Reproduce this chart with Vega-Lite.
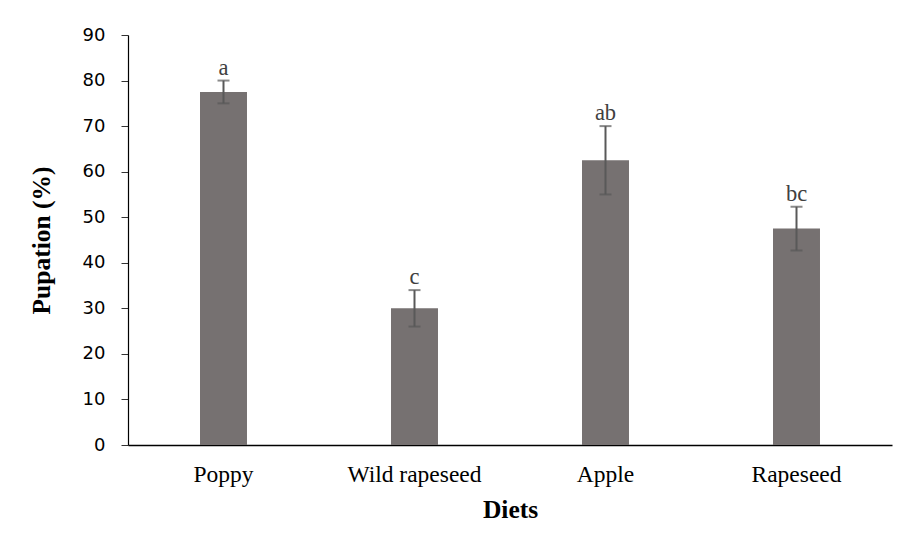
{
  "$schema": "https://vega.github.io/schema/vega-lite/v6.json",
  "autosize": {"type": "none"},
  "width": 764,
  "height": 410,
  "padding": {"left": 128, "top": 35, "right": 17, "bottom": 110},
  "background": "white",
  "config": {"view": {"stroke": null}},
  "data": {"values": [
    {"diet": "Poppy", "mean": 77.5, "lo": 75.0, "hi": 80.0, "group": "a"},
    {"diet": "Wild rapeseed", "mean": 30.0, "lo": 26.0, "hi": 34.0, "group": "c"},
    {"diet": "Apple", "mean": 62.5, "lo": 55.0, "hi": 70.0, "group": "ab"},
    {"diet": "Rapeseed", "mean": 47.5, "lo": 42.7, "hi": 52.3, "group": "bc"}
  ]},
  "encoding": {
    "x": {
      "field": "diet", "type": "nominal", "sort": null,
      "scale": {"paddingInner": 0.754, "paddingOuter": 0.377},
      "axis": {
        "title": "Diets", "labelAngle": 0, "ticks": false,
        "domainColor": "#000000", "domainWidth": 1.5,
        "labelFont": "Liberation Serif", "labelFontSize": 23.5, "labelColor": "#000000",
        "labelPadding": 17,
        "titleFont": "Liberation Serif", "titleFontSize": 25.5, "titleFontWeight": "bold",
        "titleColor": "#000000", "titlePadding": 12
      }
    }
  },
  "layer": [
    {
      "mark": {"type": "bar", "color": "#767171"},
      "encoding": {
        "y": {
          "field": "mean", "type": "quantitative",
          "scale": {"domain": [0, 90]},
          "axis": {
            "title": "Pupation (%)", "values": [0,10,20,30,40,50,60,70,80,90],
            "grid": false, "domainColor": "#000000", "domainWidth": 1.2,
            "tickColor": "#333333", "tickSize": 7, "tickWidth": 1,
            "labelFont": "DejaVu Sans", "labelFontSize": 18, "labelColor": "#000000",
            "labelPadding": 16,
            "titleFont": "Liberation Serif", "titleFontSize": 25.5, "titleFontWeight": "bold",
            "titleColor": "#000000", "titlePadding": 28
          }
        }
      }
    },
    {
      "mark": {"type": "rule", "color": "#595959", "strokeWidth": 2},
      "encoding": {
        "y": {"field": "lo", "type": "quantitative"},
        "y2": {"field": "hi"}
      }
    },
    {
      "mark": {"type": "tick", "color": "#595959", "size": 12, "thickness": 2, "orient": "horizontal"},
      "encoding": {"y": {"field": "lo", "type": "quantitative"}}
    },
    {
      "mark": {"type": "tick", "color": "#595959", "size": 12, "thickness": 2, "orient": "horizontal"},
      "encoding": {"y": {"field": "hi", "type": "quantitative"}}
    },
    {
      "mark": {"type": "text", "font": "Liberation Serif", "fontSize": 22.5, "color": "#404040", "baseline": "alphabetic", "dy": -6},
      "encoding": {
        "y": {"field": "hi", "type": "quantitative"},
        "text": {"field": "group"}
      }
    }
  ]
}
